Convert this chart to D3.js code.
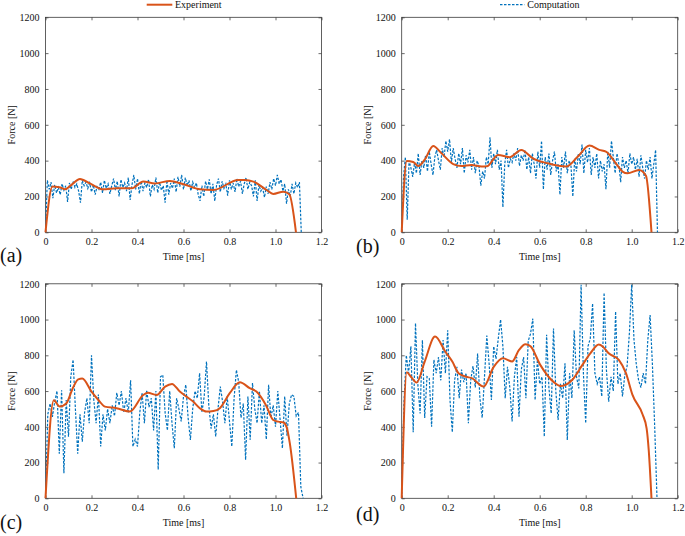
<!DOCTYPE html>
<html><head><meta charset="utf-8">
<script src="https://cdn.jsdelivr.net/npm/d3@7"></script>
<style>
html,body{margin:0;padding:0;background:#fff;}
svg{display:block;}
</style></head>
<body><svg id="chart" width="685" height="536"></svg>
<script>
// ---------- DATA ----------
const xTicks = [0, 0.2, 0.4, 0.6, 0.8, 1.0, 1.2];
const xTickLabels = ["0", "0.2", "0.4", "0.6", "0.8", "1.0", "1.2"];
const yTicks = [0, 200, 400, 600, 800, 1000, 1200];
const seriesNames = ["Experiment", "Computation"];
const panelLabels = ["(a)", "(b)", "(c)", "(d)"];

// Computation: uniformly sampled force [N]
const compStepA = 0.008;
const compA = [0,290,240,280,190,265,220,250,210,270,235,260,170,275,240,285,250,270,230,165,
290,260,280,245,275,225,265,210,255,240,280,220,290,245,270,215,260,300,235,285,
200,295,250,275,230,305,180,265,320,240,300,215,285,230,275,250,295,200,265,240,
305,220,280,235,260,165,290,210,275,245,300,225,310,255,320,240,305,260,290,230,
280,250,275,210,175,260,200,285,240,295,215,270,175,265,300,225,285,245,270,205,
290,240,275,225,300,255,285,215,270,305,240,280,260,200,290,175,265,230,250,195,
255,215,280,240,300,260,320,270,295,230,270,160,240,200,270,215,275,250,280,0];

const compStepB = 0.008;
const compB = [0,310,420,70,400,360,310,390,330,440,320,400,360,430,340,450,380,320,420,460,
400,350,470,420,510,450,520,390,470,410,360,440,380,470,330,430,390,460,350,420,
330,400,370,260,340,300,420,380,530,360,440,380,460,350,400,140,380,460,360,410,
390,440,400,470,370,430,400,460,350,420,330,440,380,300,450,360,510,240,420,350,
440,320,400,450,340,380,210,420,360,450,330,400,370,200,410,340,440,380,490,330,
460,390,470,320,420,360,440,300,400,340,380,240,450,360,510,420,330,440,380,280,
420,360,400,330,440,380,420,350,410,310,430,360,300,400,350,420,300,380,460,0];

const compStepC = 0.01;
const compC = [0,470,530,455,540,600,250,605,140,550,345,680,775,500,250,470,317,480,560,420,
800,550,420,580,290,470,380,500,420,520,460,590,520,600,480,560,480,660,290,330,
290,480,590,420,605,510,560,380,600,160,680,690,480,380,600,420,280,560,500,430,
570,635,450,327,500,600,560,700,480,570,765,520,390,470,345,500,625,540,420,570,
430,290,560,718,650,450,530,215,570,327,645,500,420,600,420,520,330,635,450,520,
400,600,440,280,570,350,530,580,570,460,480,65,0];

const compStepD = 0.01;
const compD = [0,540,800,700,850,370,980,640,475,885,450,680,670,400,775,700,790,660,885,700,
940,550,370,660,735,560,720,650,700,420,660,740,620,810,560,450,680,910,755,550,
850,780,895,1000,850,560,735,620,430,680,790,457,720,790,560,880,920,1005,550,775,
640,680,345,915,620,475,950,600,438,640,560,755,326,700,560,940,680,615,1195,700,
420,850,895,1090,700,640,680,570,1150,720,540,680,600,1045,640,700,570,690,740,925,
1195,885,750,660,620,700,640,885,1025,750,400,0];

// Experiment: time [ms] and force [N]
const expTimeA = [0,0.03,0.06,0.085,0.11,0.15,0.193,0.251,0.309,0.375,0.425,0.476,0.541,0.6,0.672,0.73,0.838,0.867,0.904,0.961,0.99,1.034,1.06,1.089];
const expForceA = [0,255,252,240,262,298,273,240,246,246,283,273,287,268,240,236,292,292,283,236,214,227,212,0];

const expTimeB = [0,0.022,0.05,0.072,0.1,0.137,0.173,0.224,0.26,0.303,0.347,0.37,0.419,0.469,0.52,0.57,0.635,0.715,0.765,0.816,0.859,0.888,0.931,0.96,0.982,1.032,1.062,1.086];
const expForceB = [0,398,392,370,405,482,441,381,370,376,367,368,432,419,460,413,385,367,422,484,460,450,385,339,329,348,315,0];

const expTimeC = [0,0.036,0.062,0.09,0.12,0.142,0.16,0.2,0.23,0.258,0.309,0.367,0.425,0.445,0.483,0.52,0.55,0.584,0.613,0.642,0.671,0.7,0.73,0.758,0.801,0.845,0.888,0.917,0.958,0.99,1.012,1.033,1.048,1.062,1.09];
const expForceC = [0,548,513,530,620,665,670,597,550,513,504,485,578,590,578,625,640,597,569,541,504,485,488,504,588,649,616,597,522,438,429,425,400,310,0];

const expTimeD = [0,0.022,0.04,0.065,0.1,0.145,0.19,0.22,0.247,0.28,0.305,0.356,0.4,0.44,0.48,0.51,0.538,0.56,0.603,0.661,0.69,0.741,0.785,0.82,0.857,0.875,0.9,0.944,0.975,1.003,1.047,1.065,1.074,1.086];
const expForceD = [0,705,680,648,765,905,820,765,700,680,672,625,735,783,765,830,862,850,745,650,628,662,745,811,860,848,811,774,700,580,470,390,270,0];

// ---------- LAYOUT ----------
const panels = [
  {label: panelLabels[0], left: 45.5, top: 17.3, w: 276, h: 215, lx: 0, ly: 262, comp: compA, step: compStepA, et: expTimeA, ef: expForceA},
  {label: panelLabels[1], left: 401.7, top: 17.3, w: 276, h: 215, lx: 356, ly: 253, comp: compB, step: compStepB, et: expTimeB, ef: expForceB},
  {label: panelLabels[2], left: 45.5, top: 283.8, w: 276, h: 214.5, lx: 0, ly: 529, comp: compC, step: compStepC, et: expTimeC, ef: expForceC},
  {label: panelLabels[3], left: 401.7, top: 283.8, w: 276, h: 214.5, lx: 356, ly: 521, comp: compD, step: compStepD, et: expTimeD, ef: expForceD}
];

const orange = "#D95319", blue = "#0072BD", axisCol = "#3a3a3a";
const serif = "Liberation Serif";
const svg = d3.select("#chart");

panels.forEach(p => {
  const g = svg.append("g").attr("transform", `translate(${p.left},${p.top})`);
  const x = d3.scaleLinear().domain([0, 1.2]).range([0, p.w]);
  const y = d3.scaleLinear().domain([0, 1200]).range([p.h, 0]);

  const styleAxis = sel => {
    sel.attr("font-family", serif).attr("font-size", 10);
    sel.select(".domain").remove();
    sel.selectAll(".tick line").attr("stroke", axisCol).attr("stroke-width", 0.75);
    sel.selectAll(".tick text").attr("fill", "#111").style("font-family", serif).style("font-size", "10px");
  };

  g.append("g").attr("transform", `translate(0,${p.h})`)
    .call(d3.axisBottom(x).tickValues(xTicks).tickFormat((d, i) => xTickLabels[i]).tickSizeInner(-3).tickSizeOuter(0).tickPadding(6))
    .call(styleAxis);
  g.append("g")
    .call(d3.axisTop(x).tickValues(xTicks).tickFormat("").tickSizeInner(-3).tickSizeOuter(0))
    .call(styleAxis);
  g.append("g")
    .call(d3.axisLeft(y).tickValues(yTicks).tickFormat(d3.format("d")).tickSizeInner(-3).tickSizeOuter(0).tickPadding(6))
    .call(styleAxis);
  g.append("g").attr("transform", `translate(${p.w},0)`)
    .call(d3.axisRight(y).tickValues(yTicks).tickFormat("").tickSizeInner(-3).tickSizeOuter(0))
    .call(styleAxis);
  g.append("rect").attr("width", p.w).attr("height", p.h)
    .attr("fill", "none").attr("stroke", axisCol).attr("stroke-width", 0.8);

  // computation
  const compLine = d3.line().x((d, i) => x(i * p.step)).y(d => y(d));
  g.append("path").datum(p.comp).attr("d", compLine)
    .attr("fill", "none").attr("stroke", blue).attr("stroke-width", 1.2)
    .attr("stroke-dasharray", "2.5,1.5");

  // experiment
  const expData = p.et.map((t, i) => [t, p.ef[i]]);
  const expLine = d3.line().x(d => x(d[0])).y(d => y(d[1])).curve(d3.curveMonotoneX);
  g.append("path").datum(expData).attr("d", expLine)
    .attr("fill", "none").attr("stroke", orange).attr("stroke-width", 2);

  // axis labels
  g.append("text").attr("x", p.w / 2).attr("y", p.h + 27.5).attr("text-anchor", "middle")
    .style("font-family", serif).style("font-size", "10px").attr("fill", "#111").text("Time [ms]");
  g.append("text").attr("transform", `translate(-34.5,${p.h / 2}) rotate(-90)`).attr("text-anchor", "middle")
    .attr("dy", "0.35em").style("font-family", serif).style("font-size", "10px").attr("fill", "#111").text("Force [N]");

  svg.append("text").attr("x", p.lx).attr("y", p.ly).style("font-family", serif).style("font-size", "20px")
    .attr("fill", "#111").text(p.label);
});

// legends
const leg = svg.append("g");
leg.append("line").attr("x1", 146.7).attr("x2", 172.3).attr("y1", 4.7).attr("y2", 4.7)
  .attr("stroke", orange).attr("stroke-width", 2);
leg.append("text").attr("x", 175).attr("y", 8.3).style("font-family", serif).style("font-size", "10px").attr("fill", "#111").text(seriesNames[0]);
leg.append("line").attr("x1", 500).attr("x2", 524.3).attr("y1", 4.7).attr("y2", 4.7)
  .attr("stroke", blue).attr("stroke-width", 1.2).attr("stroke-dasharray", "2.5,1.5");
leg.append("text").attr("x", 527.3).attr("y", 8.3).style("font-family", serif).style("font-size", "10px").attr("fill", "#111").text(seriesNames[1]);
</script></body></html>
